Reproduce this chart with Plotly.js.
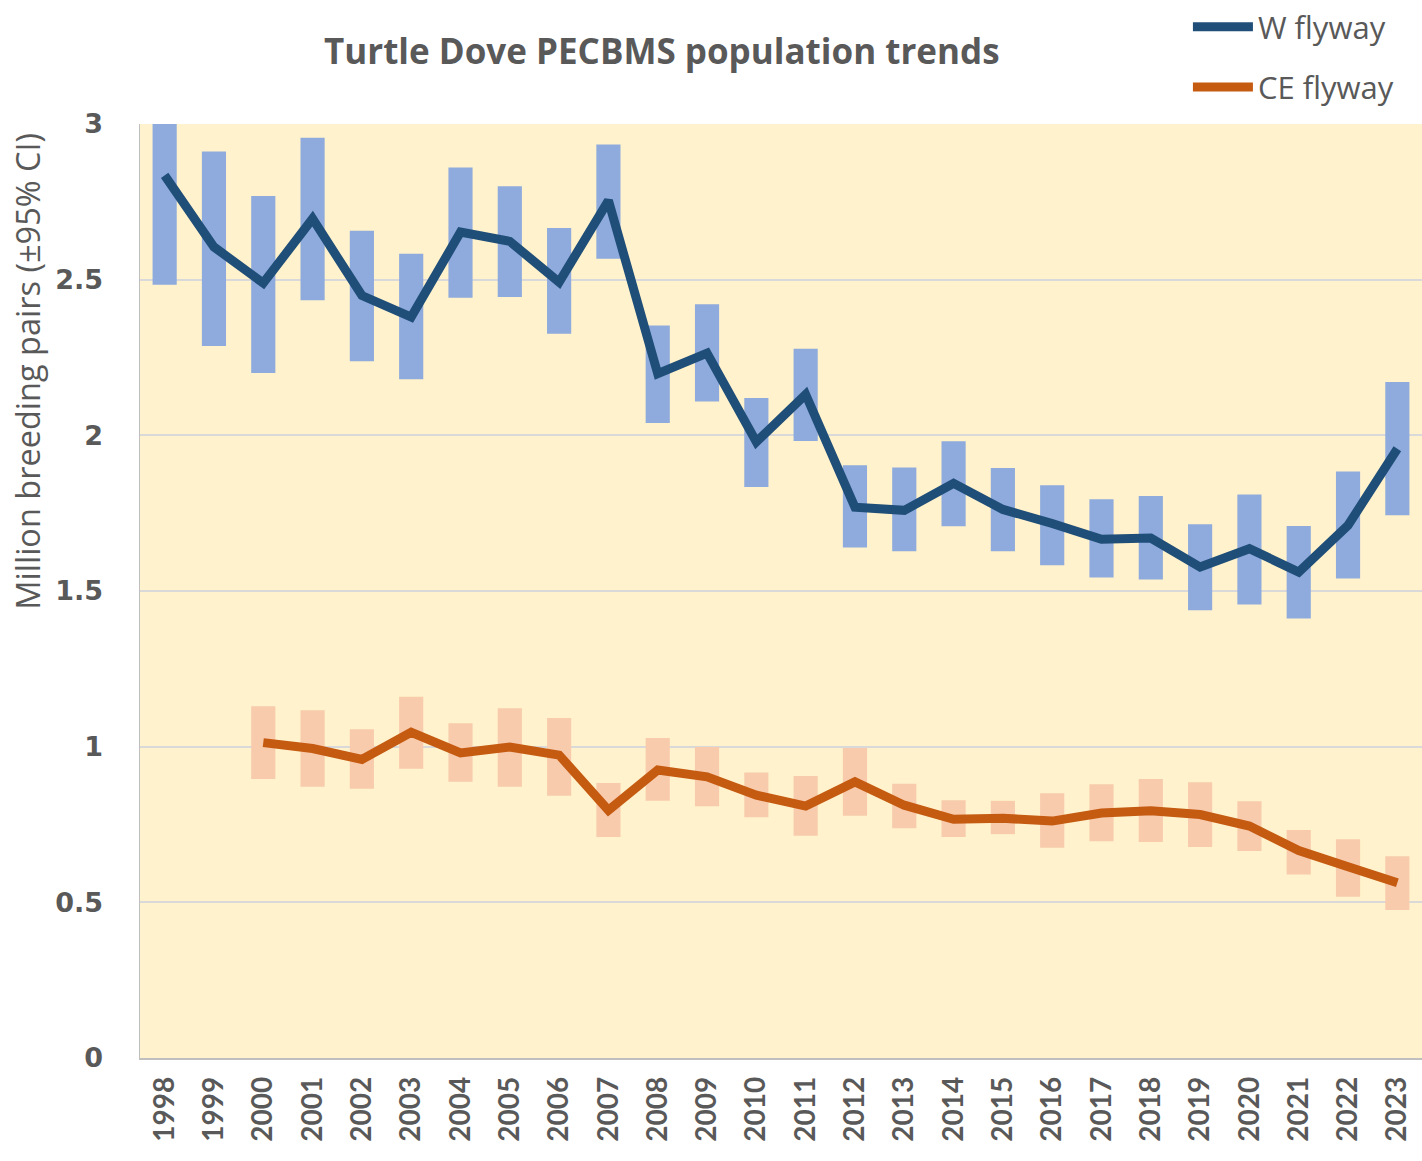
<!DOCTYPE html>
<html>
<head>
<meta charset="utf-8">
<script src="https://cdn.plot.ly/plotly-3.0.1.min.js"></script>
<style>html,body{margin:0;padding:0;background:#fff;}#chart{width:1422px;height:1161px;}</style>
</head>
<body>
<div id="chart"></div>
<script>
const years = ["1998","1999","2000","2001","2002","2003","2004","2005","2006","2007","2008","2009","2010","2011","2012","2013","2014","2015","2016","2017","2018","2019","2020","2021","2022","2023"];

const wIndex = [2.835,2.605,2.489,2.696,2.449,2.380,2.653,2.623,2.492,2.754,2.198,2.264,1.979,2.131,1.769,1.759,1.846,1.762,1.717,1.666,1.670,1.577,1.636,1.561,1.711,1.957];
const wUpper = [3.000,2.912,2.769,2.956,2.657,2.583,2.860,2.800,2.666,2.934,2.353,2.421,2.120,2.278,1.904,1.897,1.981,1.895,1.840,1.795,1.805,1.714,1.810,1.709,1.884,2.171];
const wLower = [2.484,2.287,2.200,2.434,2.238,2.180,2.442,2.444,2.326,2.567,2.040,2.109,1.834,1.982,1.640,1.628,1.708,1.628,1.583,1.543,1.537,1.438,1.457,1.412,1.540,1.743];

const ceYears = years.slice(2);
const ceIndex = [1.013,0.994,0.959,1.046,0.980,0.999,0.973,0.796,0.925,0.903,0.844,0.809,0.887,0.812,0.767,0.770,0.761,0.787,0.794,0.782,0.745,0.666,0.614,0.563];
const ceUpper = [1.130,1.117,1.056,1.160,1.075,1.123,1.092,0.883,1.028,0.999,0.917,0.906,0.996,0.881,0.828,0.826,0.850,0.879,0.896,0.886,0.825,0.732,0.703,0.648];
const ceLower = [0.896,0.871,0.865,0.929,0.887,0.871,0.842,0.710,0.826,0.809,0.773,0.714,0.778,0.738,0.710,0.719,0.675,0.696,0.694,0.678,0.665,0.589,0.518,0.475];

const seriesNames = ["W flyway","CE flyway"];
const tickVals = [0,0.5,1,1.5,2,2.5,3];
const tickText = ["0","0.5","1","1.5","2","2.5","3"];
const yTitle = "Million breeding pairs (±95% CI)";

const diff = (u,l) => u.map((v,i) => v - l[i]);

const traces = [
  {type:"bar", x:years, y:diff(wUpper,wLower), base:wLower, width:0.49,
   marker:{color:"#8FAADC", line:{width:0}}, showlegend:false, hoverinfo:"skip"},
  {type:"bar", x:ceYears, y:diff(ceUpper,ceLower), base:ceLower, width:0.49,
   marker:{color:"#F8CBAD", line:{width:0}}, showlegend:false, hoverinfo:"skip"},
  {type:"scatter", mode:"lines", x:years, y:wIndex, name:seriesNames[0], legendgroup:"w",
   line:{color:"#1F4E79", width:9}},
  {type:"scatter", mode:"lines", x:ceYears, y:ceIndex, name:seriesNames[1], legendgroup:"ce",
   line:{color:"#C55A11", width:9}}
];

const layout = {
  width:1422, height:1161,
  paper_bgcolor:"#FFFFFF", plot_bgcolor:"#FFF2CC",
  margin:{l:140, r:0, t:124, b:103},
  barmode:"overlay",
  font:{family:"Lato, 'Open Sans', sans-serif", color:"#595959"},
  title:{text:"<b>Turtle Dove PECBMS population trends</b>", font:{size:35, color:"#595959", family:"'Open Sans', Lato, sans-serif"},
         x:0.407, xref:"paper", xanchor:"center", y:0.955, yref:"container", yanchor:"middle"},
  showlegend:true,
  legend:{x:0.982, xanchor:"right", y:1.012, yref:"container", yanchor:"top", bgcolor:"rgba(0,0,0,0)",
          font:{size:31, color:"#595959", family:"'Open Sans', Lato, sans-serif"}, tracegroupgap:17, itemwidth:60},
  xaxis:{type:"category", range:[-0.5,25.5], tickangle:-90, showgrid:false,
         showline:true, linecolor:"#BFBFBF", linewidth:1.5, ticks:"", ticklabelstandoff:6,
         tickfont:{size:28, color:"#595959", family:"Lato, sans-serif", weight:"bold"}, fixedrange:true},
  yaxis:{range:[0,3], tickvals:tickVals, ticktext:tickText, showgrid:true, gridcolor:"#D9D9D9", gridwidth:2,
         showline:true, linecolor:"#BFBFBF", linewidth:1.5, zeroline:false, ticks:"", ticklabelstandoff:30,
         tickfont:{size:27, color:"#595959", family:"'DejaVu Sans', sans-serif", weight:"bold"}},
  annotations:[{text:yTitle, textangle:-90, xref:"paper", yref:"paper", x:-0.088, y:0.735,
                xanchor:"center", yanchor:"middle", showarrow:false,
                font:{size:32.5, color:"#595959", family:"'Open Sans', Lato, sans-serif"}}]
};

Plotly.newPlot("chart", traces, layout, {staticPlot:true, displayModeBar:false});
</script>
</body>
</html>
